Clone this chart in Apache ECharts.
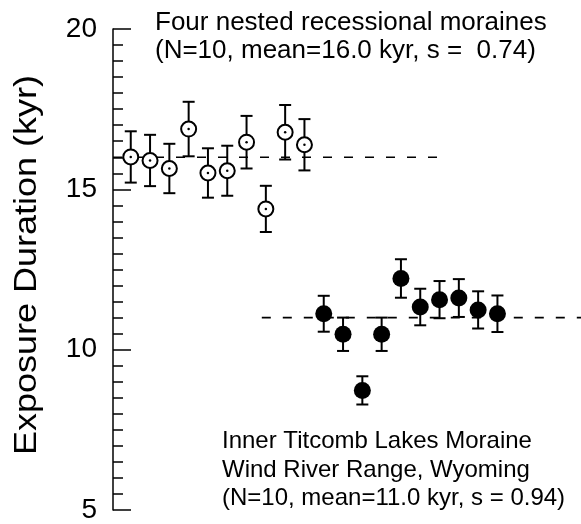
<!DOCTYPE html>
<html>
<head>
<meta charset="utf-8">
<script src="https://cdn.jsdelivr.net/npm/echarts@6/dist/echarts.min.js"></script>
<style>
html,body{margin:0;padding:0;background:#fff;}
#chart{width:581px;height:524px;}
</style>
</head>
<body>
<div id="chart"></div>
<script>
// ---- data ----
const openIndex = [1,2,3,4,5,6,7,8,9,10];
const openMean  = [16.01,15.90,15.65,16.88,15.51,15.58,16.47,14.39,16.78,16.39];
const openErr   = [0.80,0.80,0.77,0.85,0.77,0.78,0.82,0.72,0.85,0.80];
const filledIndex = [11,12,13,14,15,16,17,18,19,20];
const filledMean  = [11.12,10.48,8.73,10.48,12.22,11.33,11.56,11.61,11.24,11.12];
const filledErr   = [0.56,0.52,0.44,0.52,0.60,0.57,0.58,0.59,0.58,0.57];
const groupMeans  = [16.0, 11.0];
const meanLineFrom = [0.08, 7.79];
const meanLineTo   = [17.03, 24.33];
const yTicks = [5, 10, 15, 20];
const topText = ['Four nested recessional moraines', '(N=10, mean=16.0 kyr, s =  0.74)'];
const bottomText = ['Inner Titcomb Lakes Moraine', 'Wind River Range, Wyoming', '(N=10, mean=11.0 kyr, s = 0.94)'];
const yTitle = 'Exposure Duration (kyr)';

const FONT = "'Liberation Sans', Arial, Helvetica, sans-serif";

function pts(idx, mean, err) {
  return idx.map((x, i) => [x, mean[i], mean[i] - err[i], mean[i] + err[i]]);
}
const openData = pts(openIndex, openMean, openErr);
const filledData = pts(filledIndex, filledMean, filledErr);

function errRender(params, api) {
  const x = api.value(0);
  const lo = api.coord([x, api.value(2)]);
  const hi = api.coord([x, api.value(3)]);
  const hw = 6;
  const st = { stroke: '#000', lineWidth: 2 };
  return {
    type: 'group',
    children: [
      { type: 'line', shape: { x1: lo[0], y1: lo[1], x2: hi[0], y2: hi[1] }, style: st },
      { type: 'line', shape: { x1: lo[0] - hw, y1: lo[1], x2: lo[0] + hw, y2: lo[1] }, style: st },
      { type: 'line', shape: { x1: hi[0] - hw, y1: hi[1], x2: hi[0] + hw, y2: hi[1] }, style: st }
    ]
  };
}

const meanSeries = groupMeans.map((m, i) => ({
  type: 'line',
  data: [[meanLineFrom[i], m], [meanLineTo[i], m]],
  symbol: 'none',
  silent: true,
  z: 1,
  lineStyle: { color: '#000', width: 1.6, type: [9, 12] },
  animation: false
}));

const chart = echarts.init(document.getElementById('chart'), null, { renderer: 'canvas' });
chart.setOption({
  animation: false,
  backgroundColor: '#fff',
  grid: { left: 113, right: 0, top: 29, bottom: 9 },
  xAxis: {
    type: 'value', min: 0.08, max: 24.33, show: false
  },
  yAxis: {
    type: 'value', min: yTicks[0], max: yTicks[yTicks.length - 1], interval: 5,
    axisLine: { show: true, lineStyle: { color: '#000', width: 1.5 } },
    axisTick: { show: true, inside: true, length: 18, lineStyle: { color: '#000', width: 1.5 } },
    minorTick: { show: true, splitNumber: 10, length: 10, lineStyle: { color: '#000', width: 1.5 } },
    splitLine: { show: false },
    axisLabel: { color: '#000', fontSize: 28, fontFamily: FONT, margin: 16 }
  },
  series: [
    ...meanSeries,
    {
      type: 'custom', renderItem: errRender, data: openData, z: 2,
      encode: { x: 0, y: [1, 2, 3] }
    },
    {
      type: 'custom', renderItem: errRender, data: filledData, z: 2,
      encode: { x: 0, y: [1, 2, 3] }
    },
    {
      type: 'scatter', data: openData.map(d => [d[0], d[1]]), symbol: 'circle', symbolSize: 15, z: 3,
      itemStyle: { color: '#fff', borderColor: '#000', borderWidth: 2, opacity: 1 }
    },
    {
      type: 'scatter', data: openData.map(d => [d[0], d[1]]), symbol: 'circle', symbolSize: 2.5, z: 4,
      itemStyle: { color: '#000', opacity: 1 }
    },
    {
      type: 'scatter', data: filledData.map(d => [d[0], d[1]]), symbol: 'circle', symbolSize: 17, z: 3,
      itemStyle: { color: '#000', opacity: 1 }
    }
  ],
  graphic: [
    {
      type: 'text', x: 27.5, y: 265, rotation: Math.PI / 2, scaleY: 0.85,
      style: { text: yTitle, fill: '#000', font: '36px ' + FONT, textAlign: 'center', textVerticalAlign: 'middle' }
    },
    ...topText.map((t, i) => ({
      type: 'text', x: 155, y: 23 + i * 28.3,
      style: { text: t, fill: '#000', font: '26px ' + FONT, textAlign: 'left', textVerticalAlign: 'middle' }
    })),
    ...bottomText.map((t, i) => ({
      type: 'text', x: 222, y: 441.6 + i * 28.5,
      style: { text: t, fill: '#000', font: '24px ' + FONT, textAlign: 'left', textVerticalAlign: 'middle' }
    }))
  ]
});
</script>
</body>
</html>
